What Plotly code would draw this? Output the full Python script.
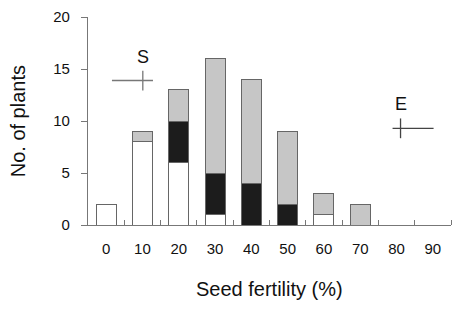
import plotly.graph_objects as go

categories = ["0", "10", "20", "30", "40", "50", "60", "70", "80", "90"]
white_vals = [2, 8, 6, 1, 0, 0, 1, 0, 0, 0]
black_vals = [0, 0, 4, 4, 4, 2, 0, 0, 0, 0]
gray_vals = [0, 1, 3, 11, 10, 7, 2, 2, 0, 0]

# S and E marks: centre (category position), y, asymmetric x-arms, y-arm
mark_labels = ["S", "E"]
mark_x = [1.01, 8.11]
mark_y = [13.9, 9.3]
mark_xminus = [0.85, 0.22]
mark_xplus = [0.28, 0.91]
mark_yerr = [0.95, 0.95]

xpos = list(range(len(categories)))
line_col = "#666666"

fig = go.Figure()
for vals, col in [(white_vals, "#ffffff"), (black_vals, "#1c1c1c"), (gray_vals, "#c6c6c6")]:
    fig.add_trace(go.Bar(x=xpos, y=vals, width=0.55, marker=dict(color=col, line=dict(color=line_col, width=1)),
                         showlegend=False))

for i in range(2):
    fig.add_trace(go.Scatter(
        x=[mark_x[i]], y=[mark_y[i]], mode="markers",
        marker=dict(size=1, opacity=0),
        error_x=dict(type="data", symmetric=False, array=[mark_xplus[i]], arrayminus=[mark_xminus[i]],
                     width=0, thickness=1.3, color="#777777" if i == 0 else "#444444"),
        error_y=dict(type="data", array=[mark_yerr[i]], width=0, thickness=1.3,
                     color="#777777" if i == 0 else "#444444"),
        showlegend=False, hoverinfo="skip"))
    fig.add_annotation(x=mark_x[i], y=mark_y[i] + 2.3, text=mark_labels[i], showarrow=False,
                       font=dict(size=18, color="#111111"))

fig.add_annotation(xref="paper", yref="paper", x=0.5, y=-0.31, yanchor="middle", xanchor="center",
                   text="Seed fertility (%)", showarrow=False, font=dict(size=20, color="#111111"))
fig.add_annotation(xref="paper", yref="paper", x=-0.192, y=0.5, xanchor="center", yanchor="middle",
                   text="No. of plants", textangle=-90, showarrow=False, font=dict(size=20, color="#111111"))

# page body adds an 8px offset; figure is sized to fill the rest of the window
fig.update_layout(
    barmode="stack",
    width=453, height=301,
    margin=dict(l=80, r=10, t=9, b=84),
    plot_bgcolor="white", paper_bgcolor="white",
    font=dict(family="Liberation Sans, Arial, sans-serif", color="#111111", size=15),
    xaxis=dict(range=[-0.5, 9.5], tickvals=xpos, ticktext=categories, ticks="", automargin=False,
               showline=True, linecolor="#777777", linewidth=1.2, showgrid=False, zeroline=False,
               tickfont=dict(size=15), ticklabelstandoff=10,
               minor=dict(tickvals=[i + 0.5 for i in xpos], ticks="inside", ticklen=5,
                          tickcolor="#777777", tickwidth=1.2, showgrid=False)),
    yaxis=dict(range=[0, 20.01], tickvals=[0, 5, 10, 15, 20], ticks="outside", ticklen=6, automargin=False,
               tickcolor="#777777", tickwidth=1.2, ticklabeloverflow="allow",
               showline=True, linecolor="#777777", linewidth=1.2, showgrid=False, zeroline=False,
               tickfont=dict(size=15), ticklabelstandoff=8),
)

fig.write_html("out.html")
